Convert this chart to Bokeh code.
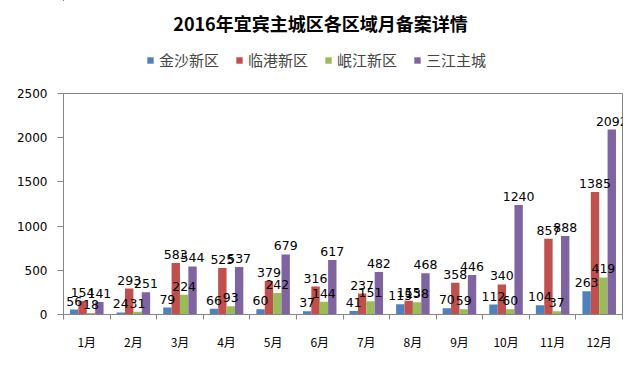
from bokeh.plotting import figure
from bokeh.layouts import column
from bokeh.models import (ColumnDataSource, FixedTicker, LinearAxis, Legend, LegendItem,
                          LabelSet, Label, Range1d)
from bokeh.embed import file_html
from bokeh.resources import INLINE
from bokeh.core.properties import value

title_text = "2016年宜宾主城区各区域月备案详情"
months = ["1月", "2月", "3月", "4月", "5月", "6月", "7月", "8月", "9月", "10月", "11月", "12月"]
series_names = ["金沙新区", "临港新区", "岷江新区", "三江主城"]
jinsha = [56, 24, 79, 66, 60, 37, 41, 115, 70, 112, 104, 263]
lingang = [154, 293, 583, 525, 379, 316, 237, 155, 358, 340, 857, 1385]
minjiang = [18, 31, 224, 93, 242, 144, 151, 138, 59, 60, 37, 419]
sanjiang = [141, 251, 544, 537, 679, 617, 482, 468, 446, 1240, 888, 2092]
colors = ["#4F81BD", "#C0504D", "#9BBB59", "#8064A2"]
yticks = [0, 500, 1000, 1500, 2000, 2500]

offsets = [-0.27, -0.09, 0.09, 0.27]
bar_w = 0.18
centers = [i + 0.5 for i in range(len(months))]

sources = []
for k, vals in enumerate([jinsha, lingang, minjiang, sanjiang]):
    xs = [c + offsets[k] for c in centers]
    sources.append(ColumnDataSource(dict(x=xs, top=vals, lbl=[str(v) for v in vals])))

LEFT, RIGHT = 63, 18

# ---- header figure: title + legend (its ranges keep the bars out of view) ----
top = figure(width=640, height=80, output_backend="svg", toolbar_location=None,
             x_range=Range1d(1000, 1640), y_range=Range1d(-1000, -920),
             min_border_left=LEFT, min_border_right=RIGHT, min_border_top=0, min_border_bottom=0,
             x_axis_type=None, y_axis_type=None)
top.xgrid.visible = False
top.ygrid.visible = False
top.outline_line_color = None
top.add_layout(Label(x=320 - LEFT, y=58, x_units="screen", y_units="screen", text=title_text,
                     text_align="center", text_baseline="middle", text_font="Noto Sans CJK SC",
                     text_font_size="18px", text_font_style="bold", text_color="#000000"))
items = []
for k in range(4):
    r = top.vbar(x="x", top="top", width=bar_w, bottom=0, source=sources[k],
                 fill_color=colors[k], line_color=None)
    items.append(LegendItem(label=series_names[k], renderers=[r]))
legend = Legend(items=items, orientation="horizontal", location=(146 - LEFT, 10),
                label_text_font="Noto Sans CJK SC", label_text_font_size="15px",
                glyph_width=8, glyph_height=8, spacing=16, label_standoff=5,
                border_line_color=None, background_fill_alpha=0, margin=0, padding=2)
top.add_layout(legend)

# ---- chart figure ----
p = figure(width=640, height=287, output_backend="svg", toolbar_location=None,
           x_range=Range1d(0, 12), y_range=Range1d(0, 2500),
           min_border_left=LEFT, min_border_right=RIGHT, min_border_top=13, min_border_bottom=53,
           x_axis_type=None, y_axis_type=None)
p.outline_line_color = "#868686"
p.background_fill_color = "white"
p.border_fill_color = "white"

for k in range(4):
    src = sources[k]
    p.vbar(x="x", top="top", width=bar_w, bottom=0, source=src,
           fill_color=colors[k], line_color=None)
    ls = LabelSet(x="x", y="top", text="lbl", source=src, text_align="center",
                  text_baseline="bottom", y_offset=4, text_font=value("DejaVu Sans"),
                  text_font_size="12.5px", text_color="#000000")
    p.add_layout(ls)

yax = LinearAxis(ticker=FixedTicker(ticks=yticks))
yax.axis_line_color = "#868686"
yax.major_tick_line_color = "#868686"
yax.major_tick_out = 6
yax.major_tick_in = 0
yax.minor_tick_line_color = None
yax.major_label_text_font = "DejaVu Sans"
yax.major_label_text_font_size = "12px"
yax.major_label_text_color = "#000000"
yax.major_label_standoff = 10
p.add_layout(yax, "left")

xax = LinearAxis(ticker=FixedTicker(ticks=centers, minor_ticks=list(range(13))))
xax.major_label_overrides = {c: m for c, m in zip(centers, months)}
xax.axis_line_color = "#868686"
xax.major_tick_line_color = None
xax.minor_tick_line_color = "#868686"
xax.minor_tick_out = 5
xax.minor_tick_in = 0
xax.major_label_text_font = "Noto Sans CJK SC"
xax.major_label_text_font_size = "12px"
xax.major_label_text_color = "#000000"
xax.major_label_standoff = 12
p.add_layout(xax, "below")

p.xgrid.visible = False
p.ygrid.ticker = FixedTicker(ticks=yticks)
p.ygrid.grid_line_color = "#868686"

layout = column(top, p, spacing=0)
open("out.html", "w").write(file_html(layout, INLINE))
